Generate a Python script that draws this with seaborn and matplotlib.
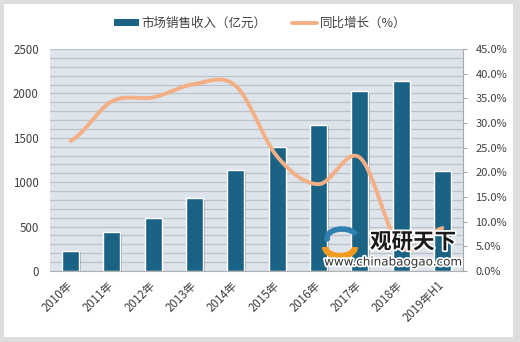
import numpy as np
import pandas as pd
import matplotlib
matplotlib.use("Agg")
import matplotlib.pyplot as plt
import matplotlib.patheffects as pe
from matplotlib.patches import Rectangle, Patch, Arc
from matplotlib.lines import Line2D
from matplotlib.ticker import FuncFormatter, MultipleLocator
import seaborn as sns

# ---- data ----
categories = ["2010年", "2011年", "2012年", "2013年", "2014年",
              "2015年", "2016年", "2017年", "2018年", "2019年H1"]
revenue = [228, 438, 595, 822, 1141, 1400, 1648, 2027, 2140, 1130]
growth = [26.4, 34.4, 35.2, 37.9, 37.5, 23.2, 17.6, 23.0, 4.8, 8.7]
bar_label = "市场销售收入（亿元）"
line_label = "同比增长（%）"

BAR_COLOR = "#1b6385"
LINE_COLOR = "#f5af85"
PLOT_BG = "#dde4eb"
GRID_COLOR = "#bcc2c8"
TEXT_COLOR = "#404040"

sns.set_theme(style="white")
plt.rcParams["font.family"] = ["Noto Sans CJK SC", "DejaVu Sans"]

W, H = 520, 342
def fx(px):
    return px / W
def fy(py):
    return 1 - py / H

fig = plt.figure(figsize=(5.2, 3.42), dpi=100)
fig.patch.set_facecolor("#dedede")
bg = Rectangle((fx(4), 5 / H), 509 / W, 333 / H,
               transform=fig.transFigure, facecolor="white",
               edgecolor="none", zorder=-10)
fig.add_artist(bg)

ax = fig.add_axes([fx(50), 71 / H, 413 / W, 222 / H])
ax.set_facecolor(PLOT_BG)

df = pd.DataFrame({"cat": categories, "rev": revenue})
sns.barplot(data=df, x="cat", y="rev", color=BAR_COLOR, saturation=1,
            width=0.41, ax=ax, zorder=3)
for p in ax.patches:
    p.set_path_effects([pe.SimplePatchShadow(offset=(1.2, -1.2), shadow_rgbFace="#7d8790", alpha=0.6),
                        pe.Normal()])

ax.set_ylim(0, 2500)
ax.set_xlim(-0.5, len(categories) - 0.5)
ax.yaxis.set_major_locator(MultipleLocator(500))
ax.yaxis.set_minor_locator(MultipleLocator(100))
ax.grid(False)
ax.grid(True, which="both", axis="y", color=GRID_COLOR, linewidth=0.9, zorder=1)
ax.set_axisbelow(True)
for s in ["top", "left", "right"]:
    ax.spines[s].set_visible(False)
ax.spines["bottom"].set_color("#b0b0b0")
ax.spines["bottom"].set_linewidth(0.8)
ax.set_xlabel("")
ax.set_ylabel("")
ax.tick_params(axis="y", which="both", length=0, labelsize=8.3, labelcolor=TEXT_COLOR, pad=8)
ax.tick_params(axis="x", length=0, labelsize=8.3, labelcolor=TEXT_COLOR, pad=9)
plt.setp(ax.get_xticklabels(), rotation=45, ha="right", va="center", rotation_mode="anchor")

# ---- smoothed growth line (Excel-like smoothing) ----
ax2 = ax.twinx()
xs = np.arange(len(growth), dtype=float)
ys = np.asarray(growth, dtype=float)
px, py = [], []
n = len(xs)
for i in range(n - 1):
    y0 = ys[i - 1] if i > 0 else ys[i]
    y3 = ys[i + 2] if i + 2 < n else ys[i + 1]
    m1 = (ys[i + 1] - y0) / 2 if i > 0 else (ys[i + 1] - ys[i]) / 2
    m2 = (y3 - ys[i]) / 2 if i + 2 < n else (ys[i + 1] - ys[i]) / 2
    t = np.linspace(0, 1, 30)
    h00 = 2 * t**3 - 3 * t**2 + 1
    h10 = t**3 - 2 * t**2 + t
    h01 = -2 * t**3 + 3 * t**2
    h11 = t**3 - t**2
    px.extend(xs[i] + t)
    py.extend(h00 * ys[i] + h10 * m1 + h01 * ys[i + 1] + h11 * m2)
curve = pd.DataFrame({"x": px, "y": py})
sns.lineplot(data=curve, x="x", y="y", sort=False, color=LINE_COLOR,
             linewidth=2.8, ax=ax2, zorder=4)
ax2.set_ylim(0, 45)
ax2.yaxis.set_major_locator(MultipleLocator(5))
ax2.yaxis.set_major_formatter(FuncFormatter(lambda v, _: f"{v:.1f}%"))
ax2.grid(False)
for s in ["top", "left", "bottom"]:
    ax2.spines[s].set_visible(False)
ax2.spines["right"].set_color("#a8a8a8")
ax2.spines["right"].set_linewidth(0.8)
ax2.tick_params(axis="y", length=3, width=0.8, color="#a8a8a8", labelsize=8,
                labelcolor=TEXT_COLOR, pad=6, right=True)
ax2.set_xlabel("")
ax2.set_ylabel("")

# ---- legend ----
handles = [Patch(facecolor=BAR_COLOR, edgecolor="none"),
           Line2D([0], [0], color=LINE_COLOR, linewidth=2.8)]
leg = fig.legend(handles, [bar_label, line_label], loc="center",
                 bbox_to_anchor=(fx(260), fy(23)), ncol=2, frameon=False,
                 fontsize=9.0, handlelength=2.0, handleheight=0.5,
                 columnspacing=2.0, handletextpad=0.25, borderpad=0.4)
for t in leg.get_texts():
    t.set_color(TEXT_COLOR)

# ---- watermark ----
halo = [pe.withStroke(linewidth=2.5, foreground="white")]
fig.add_artist(Arc((fx(342), fy(238)), 30 / W, 18 / H, theta1=20, theta2=200,
                   transform=fig.transFigure, color="#2f7fb0", linewidth=4, zorder=9))
fig.add_artist(Arc((fx(340), fy(247)), 30 / W, 18 / H, theta1=180, theta2=360,
                   transform=fig.transFigure, color="#f39a1e", linewidth=4.5, zorder=9))
fig.text(fx(413), fy(242), "观研天下", fontsize=15.5, fontweight="bold",
         color="#1a1a1a", ha="center", va="center", path_effects=halo, zorder=10)
fig.text(fx(393), fy(262), "www.chinabaogao.com", fontsize=8.6,
         color="#333333", ha="center", va="center", path_effects=halo, zorder=10,
         family=["DejaVu Sans"])

fig.savefig("out.png", dpi=100, facecolor=fig.get_facecolor())
